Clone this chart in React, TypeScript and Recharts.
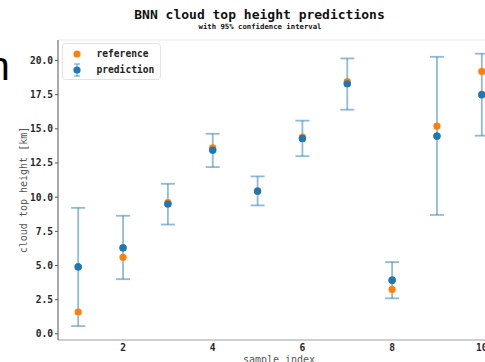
import React from "react";
import {
  ComposedChart,
  Scatter,
  XAxis,
  YAxis,
  ErrorBar,
  ReferenceLine,
} from "recharts";

// sample indices and heights in km
const sampleIndex = [1, 2, 3, 4, 5, 6, 7, 8, 9, 10];
const reference = [1.6, 5.6, 9.6, 13.6, 10.45, 14.4, 18.45, 3.25, 15.2, 19.2];
const prediction = [4.9, 6.3, 9.5, 13.45, 10.45, 14.3, 18.3, 3.93, 14.47, 17.5];
const ciLower = [0.57, 4.0, 8.0, 12.2, 9.4, 13.0, 16.4, 2.6, 8.7, 14.5];
const ciUpper = [9.22, 8.64, 10.98, 14.64, 11.52, 15.6, 20.15, 5.25, 20.27, 20.5];

const xTicks = [2, 4, 6, 8, 10];
const yTicks = [0, 2.5, 5, 7.5, 10, 12.5, 15, 17.5, 20];

const BLUE = "#1f77b4";
const ORANGE = "#ff7f0e";
const MONO = "'DejaVu Sans Mono', monospace";

const predData = sampleIndex.map((idx, i) => ({
  idx,
  value: prediction[i],
  ci: [prediction[i] - ciLower[i], ciUpper[i] - prediction[i]],
}));
const refData = sampleIndex.map((idx, i) => ({ idx, value: reference[i] }));

const dot = (color: string) => (props: any) => (
  <circle cx={props.cx} cy={props.cy} r={3.6} fill={color} />
);

const tickStyle = {
  fontFamily: MONO,
  fontWeight: "bold" as const,
  fontSize: 9.6,
  fill: "#262626",
};

export default function App() {
  return (
    <div
      style={{
        position: "absolute",
        left: 0,
        top: 0,
        width: 485,
        height: 362,
        overflow: "hidden",
        background: "#fff",
      }}
    >
      <ComposedChart
        width={520}
        height={362}
        data={predData}
        margin={{ top: 40, right: 18, left: 8, bottom: 0 }}
      >
        <XAxis
          type="number"
          dataKey="idx"
          domain={[0.55, 10.45]}
          ticks={xTicks}
          allowDataOverflow
          height={22}
          tickSize={0}
          tickMargin={4}
          tick={tickStyle}
          axisLine={{ stroke: "#cfcfcf", strokeWidth: 2 }}
        />
        <YAxis
          type="number"
          dataKey="value"
          domain={[-0.45, 21.5]}
          ticks={yTicks}
          allowDataOverflow
          width={50}
          tickSize={3}
          tickMargin={2}
          tick={tickStyle}
          tickFormatter={(v: number) => v.toFixed(1)}
          tickLine={{ stroke: "#555" }}
          axisLine={{ stroke: "#555", strokeWidth: 1 }}
        />
        <ReferenceLine y={21.5} stroke="#f0f0f0" strokeWidth={1.5} />
        <Scatter
          data={predData}
          dataKey="value"
          shape={dot(BLUE)}
          isAnimationActive={false}
        >
          <ErrorBar
            dataKey="ci"
            direction="y"
            width={7}
            stroke={BLUE}
            strokeOpacity={0.5}
            strokeWidth={1.8}
          />
        </Scatter>
        <Scatter
          data={refData}
          dataKey="value"
          shape={dot(ORANGE)}
          isAnimationActive={false}
        />
        <Scatter
          data={predData}
          dataKey="value"
          shape={dot(BLUE)}
          isAnimationActive={false}
        />
      </ComposedChart>

      <svg
        width={485}
        height={362}
        style={{ position: "absolute", left: 0, top: 0, pointerEvents: "none" }}
      >
        <text
          x={-12.5}
          y={80}
          fontFamily="'Liberation Sans', Arial, sans-serif"
          fontSize={40}
          fill="#000"
        >
          n
        </text>
        <text
          x={259.5}
          y={18.5}
          textAnchor="middle"
          fontFamily={MONO}
          fontWeight="bold"
          fontSize={13}
          fill="#111"
        >
          BNN cloud top height predictions
        </text>
        <text
          x={260}
          y={29}
          textAnchor="middle"
          fontFamily={MONO}
          fontWeight="bold"
          fontSize={7.3}
          fill="#111"
        >
          with 95% confidence interval
        </text>
        <text
          transform="translate(26.5,190) rotate(-90)"
          textAnchor="middle"
          fontFamily={MONO}
          fontSize={10}
          fill="#555"
        >
          cloud top height [km]
        </text>
        <text
          x={279}
          y={362.5}
          textAnchor="middle"
          fontFamily={MONO}
          fontSize={10}
          fill="#555"
        >
          sample index
        </text>

        {/* legend */}
        <rect
          x={62.5}
          y={43.5}
          width={98}
          height={36}
          rx={3}
          fill="#fff"
          fillOpacity={0.85}
          stroke="#e3e3e3"
        />
        <circle cx={77} cy={54} r={3.6} fill={ORANGE} />
        <g stroke={BLUE} strokeOpacity={0.5} strokeWidth={1.5}>
          <line x1={77} y1={64} x2={77} y2={76} />
          <line x1={74} y1={64} x2={80} y2={64} />
          <line x1={74} y1={76} x2={80} y2={76} />
        </g>
        <circle cx={77} cy={70} r={3.6} fill={BLUE} />
        <text x={96.5} y={57} fontFamily={MONO} fontWeight="bold" fontSize={9.6} fill="#222">
          reference
        </text>
        <text x={96.5} y={73} fontFamily={MONO} fontWeight="bold" fontSize={9.6} fill="#222">
          prediction
        </text>
      </svg>
    </div>
  );
}
